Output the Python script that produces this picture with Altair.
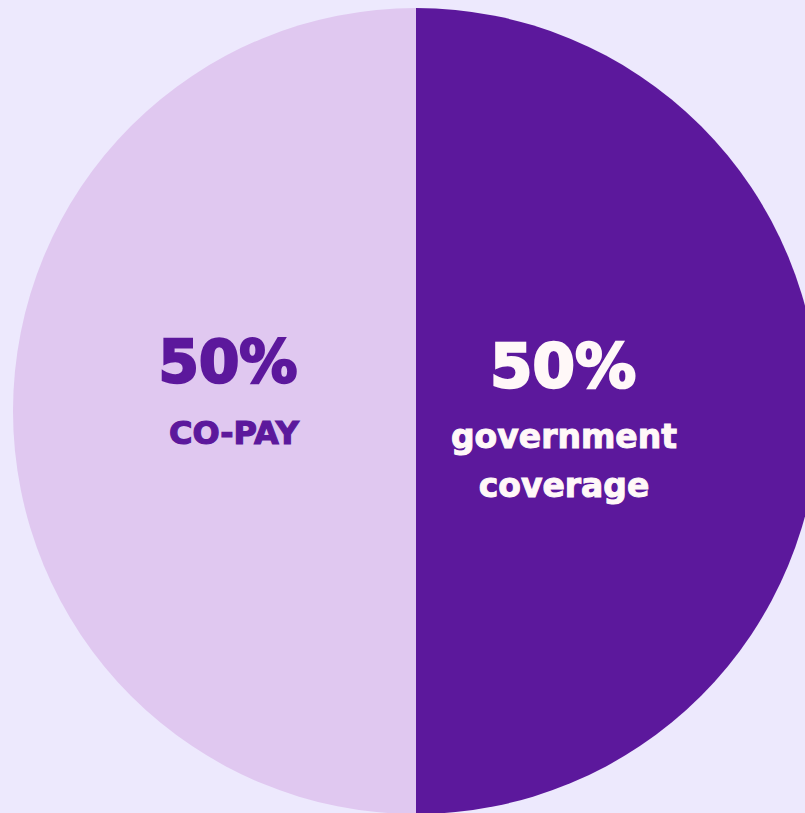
import altair as alt
import pandas as pd

categories = ["government coverage", "CO-PAY"]
shares = [50, 50]
colors = ["#5C189C", "#E0C8F0"]

df = pd.DataFrame({"category": categories, "share": shares, "order": [0, 1]})

pie = alt.Chart(df).mark_arc(radius=403, stroke=None).encode(
    theta=alt.Theta("share:Q", stack=True),
    order=alt.Order("order:Q"),
    color=alt.Color("category:N", scale=alt.Scale(domain=categories, range=colors), legend=None),
    x=alt.value(416),
    y=alt.value(411),
)

font = "DejaVu Sans"

def label(text, x, y, size, color, sw):
    return alt.Chart(pd.DataFrame({"t": [text]})).mark_text(
        font=font, fontWeight="bold", fontSize=size, color=color, align="center",
        baseline="alphabetic", stroke=color, strokeWidth=sw,
    ).encode(text="t:N", x=alt.value(x), y=alt.value(y))

left_pct = label(f"{shares[1]}%", 228, 382, 58, "#5C189C", 2.5)
left_lbl = label("CO-PAY", 234, 444, 32, "#5C189C", 1.2)
right_pct = label(f"{shares[0]}%", 563, 387, 61, "#FFF8F8", 2.5)
right_l1 = label("government", 564, 448, 33, "#FFF8F8", 1.0)
right_l2 = label("coverage", 564, 497, 33, "#FFF8F8", 1.0)

chart = alt.layer(pie, left_pct, left_lbl, right_pct, right_l1, right_l2).properties(
    width=805, height=813, padding=0, autosize=alt.AutoSizeParams(type="none"),
    background="#EDE9FD",
).configure_view(stroke=None)

chart.save("out.html", embed_options={"renderer": "svg", "actions": False})
